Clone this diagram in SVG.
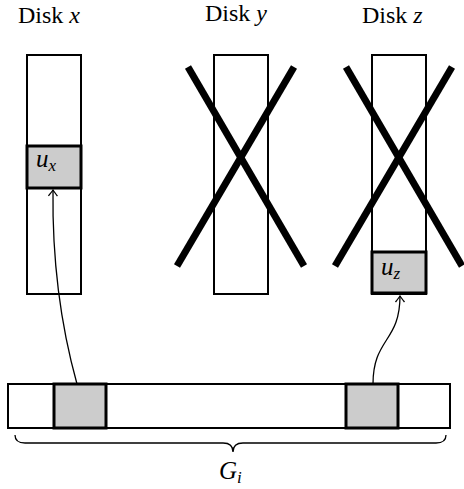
<svg xmlns="http://www.w3.org/2000/svg" width="464" height="489" viewBox="0 0 464 489">
<style>
.disk{fill:#fff;stroke:#000;stroke-width:2}
.cell{fill:#cccccc;stroke:#000;stroke-width:3}
.cross{stroke:#000;stroke-width:7;stroke-linecap:butt}
.conn{fill:none;stroke:#000;stroke-width:1.3}
</style>
<defs>
<marker id="arr" viewBox="-8 -6 10 12" markerWidth="10" markerHeight="12" refX="0" refY="0" orient="auto" markerUnits="userSpaceOnUse">
<path d="M-6,-4.5 Q-1.5,-1 0,0 Q-1.5,1 -6,4.5" fill="none" stroke="#000" stroke-width="1.3"/>
</marker>
</defs>
<g id="disk-x">
<text x="18" y="23" font-family="Liberation Serif, serif" font-size="24">Disk <tspan font-style="italic">x</tspan></text>
<rect class="disk" x="27" y="55" width="54" height="239"/>
<rect class="cell" x="27" y="146" width="54" height="42"/>
<text x="36" y="167" font-family="Liberation Serif, serif" font-size="25" font-style="italic">u<tspan font-size="17" dy="4">x</tspan></text>
</g>
<g id="disk-y">
<text x="205" y="21" font-family="Liberation Serif, serif" font-size="24">Disk <tspan font-style="italic">y</tspan></text>
<rect class="disk" x="214" y="55" width="54" height="239"/>
<line class="cross" x1="188" y1="67" x2="304" y2="266"/>
<line class="cross" x1="294" y1="67" x2="177" y2="266"/>
</g>
<g id="disk-z">
<text x="362" y="23" font-family="Liberation Serif, serif" font-size="24">Disk <tspan font-style="italic">z</tspan></text>
<rect class="disk" x="372" y="55" width="54" height="239"/>
<rect class="cell" x="372" y="252" width="54" height="41"/>
<line class="cross" x1="346" y1="67" x2="462" y2="266"/>
<line class="cross" x1="452" y1="67" x2="335" y2="266"/>
<text x="381" y="275" font-family="Liberation Serif, serif" font-size="25" font-style="italic">u<tspan font-size="17" dy="4">z</tspan></text>
</g>
<g id="group-gi">
<rect class="disk" x="8" y="384" width="442" height="44" stroke-width="2.5"/>
<rect class="cell" x="54" y="384" width="52" height="44"/>
<rect class="cell" x="346" y="384" width="52" height="44"/>
<path d="M15,435 q0,8 10,8 H223 q10,0 10,9 q0,-9 10,-9 H436 q10,0 10,-8" fill="none" stroke="#000" stroke-width="1.3"/>
<text x="219" y="479" font-family="Liberation Serif, serif" font-size="25" font-style="italic">G<tspan font-size="17" dy="4">i</tspan></text>
</g>
<g id="connectors">
<path class="conn" d="M77,384 C62,330 52,270 53,190" marker-end="url(#arr)"/>
<path class="conn" d="M373,384 C373,338 400,342 400,296" marker-end="url(#arr)"/>
</g>
</svg>
